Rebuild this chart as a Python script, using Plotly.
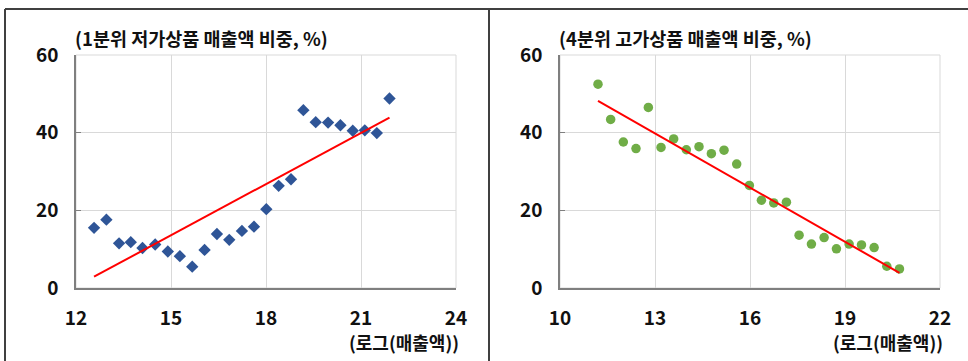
import plotly.graph_objects as go

W, H = 968, 361

# Left panel: 1st quintile low-price product sales share
left_x = [12.57, 12.96, 13.36, 13.73, 14.10, 14.50, 14.90, 15.28, 15.67, 16.06, 16.45, 16.84, 17.24,
          17.62, 18.01, 18.40, 18.79, 19.18, 19.57, 19.96, 20.35, 20.74, 21.12, 21.50, 21.90]
left_y = [15.5, 17.6, 11.5, 11.8, 10.3, 11.2, 9.4, 8.2, 5.5, 9.8, 13.9, 12.4, 14.7,
          15.8, 20.3, 26.3, 28.0, 45.8, 42.7, 42.6, 41.9, 40.5, 40.6, 39.9, 48.8]
left_trend_x = [12.57, 21.90]
left_trend_y = [2.9, 43.9]

# Right panel: 4th quintile high-price product sales share
right_x = [11.20, 11.60, 12.00, 12.40, 12.79, 13.19, 13.59, 13.99, 14.39, 14.78, 15.18, 15.58, 15.98,
           16.36, 16.75, 17.15, 17.55, 17.94, 18.34, 18.73, 19.13, 19.52, 19.92, 20.32, 20.72]
right_y = [52.5, 43.4, 37.6, 35.9, 46.5, 36.2, 38.4, 35.6, 36.4, 34.6, 35.5, 31.9, 26.4,
           22.6, 21.9, 22.1, 13.6, 11.3, 13.0, 10.1, 11.3, 11.1, 10.4, 5.6, 4.9]
right_trend_x = [11.20, 20.72]
right_trend_y = [48.2, 3.9]

left_title = "(1분위 저가상품 매출액 비중, %)"
right_title = "(4분위 고가상품 매출액 비중, %)"
x_label = "(로그(매출액))"

FONT = "Noto Sans CJK KR"

fig = go.Figure()
fig.add_trace(go.Scatter(x=left_x, y=left_y, mode="markers", xaxis="x", yaxis="y",
                         marker=dict(symbol="diamond", size=9.5, color="#2F5597"), showlegend=False))
fig.add_trace(go.Scatter(x=left_trend_x, y=left_trend_y, mode="lines", xaxis="x", yaxis="y",
                         line=dict(color="#FF0000", width=2), showlegend=False))
fig.add_trace(go.Scatter(x=right_x, y=right_y, mode="markers", xaxis="x2", yaxis="y2",
                         marker=dict(symbol="circle", size=9.5, color="#70AD47"), showlegend=False))
fig.add_trace(go.Scatter(x=right_trend_x, y=right_trend_y, mode="lines", xaxis="x2", yaxis="y2",
                         line=dict(color="#FF0000", width=2), showlegend=False))

def px(x):
    return x / W

def py(y):
    return 1 - y / H

ydom = [py(288), py(55)]
tickfont = dict(family=FONT, size=19, color="#111111", weight="bold")

common_x = dict(showgrid=True, gridcolor="#D9D9D9", gridwidth=1, zeroline=False, automargin=False,
                showline=True, linecolor="#7F7F7F", linewidth=1.5, ticks="",
                tickfont=tickfont, ticklabelstandoff=12)
common_y = dict(showgrid=True, gridcolor="#D9D9D9", gridwidth=1, zeroline=False, automargin=False,
                showline=True, linecolor="#7F7F7F", linewidth=1.5, ticks="inside", ticklen=5,
                tickcolor="#7F7F7F", tickfont=tickfont, ticklabelstandoff=12,
                range=[0, 60], tick0=0, dtick=20)

fig.update_layout(
    template="none",
    width=W, height=H, margin=dict(l=0, r=0, t=0, b=0, pad=0),
    paper_bgcolor="white", plot_bgcolor="white",
    xaxis=dict(domain=[px(76), px(456)], range=[12, 24], tick0=12, dtick=3, anchor="y", **common_x),
    yaxis=dict(domain=ydom, anchor="x", **common_y),
    xaxis2=dict(domain=[px(560), px(940)], range=[10, 22], tick0=10, dtick=3, anchor="y2", **common_x),
    yaxis2=dict(domain=ydom, anchor="x2", **common_y),
)

shapes = []
# plot-area frames (light grey)
for xr, yr in (("x domain", "y domain"), ("x2 domain", "y2 domain")):
    shapes.append(dict(type="rect", xref=xr, yref=yr, x0=0, x1=1, y0=0, y1=1,
                       line=dict(color="#D9D9D9", width=1), layer="below"))
# panel borders
shapes.append(dict(type="line", xref="paper", yref="paper", x0=px(5), x1=1, y0=py(9), y1=py(9),
                   line=dict(color="#404040", width=2)))
shapes.append(dict(type="line", xref="paper", yref="paper", x0=px(5), x1=px(5), y0=0, y1=py(9),
                   line=dict(color="#404040", width=2)))
shapes.append(dict(type="line", xref="paper", yref="paper", x0=px(489), x1=px(489), y0=0, y1=py(9),
                   line=dict(color="#404040", width=2)))
fig.update_layout(shapes=shapes)

titlefont = dict(family=FONT, size=18.5, color="#111111", weight="bold")
labelfont = dict(family=FONT, size=18, color="#111111", weight="bold")
anns = []
for x0, t in ((73, left_title), (557, right_title)):
    anns.append(dict(text=t, xref="paper", yref="paper", x=px(x0), y=py(38),
                     xanchor="left", yanchor="middle", showarrow=False, font=titlefont))
for x1 in (461, 945):
    anns.append(dict(text=x_label, xref="paper", yref="paper", x=px(x1), y=py(342),
                     xanchor="right", yanchor="middle", showarrow=False, font=labelfont))
fig.update_layout(annotations=anns)

fig.write_html("out.html", config={"displayModeBar": False},
               post_script="document.body.style.margin='0';document.body.style.overflow='hidden';")
